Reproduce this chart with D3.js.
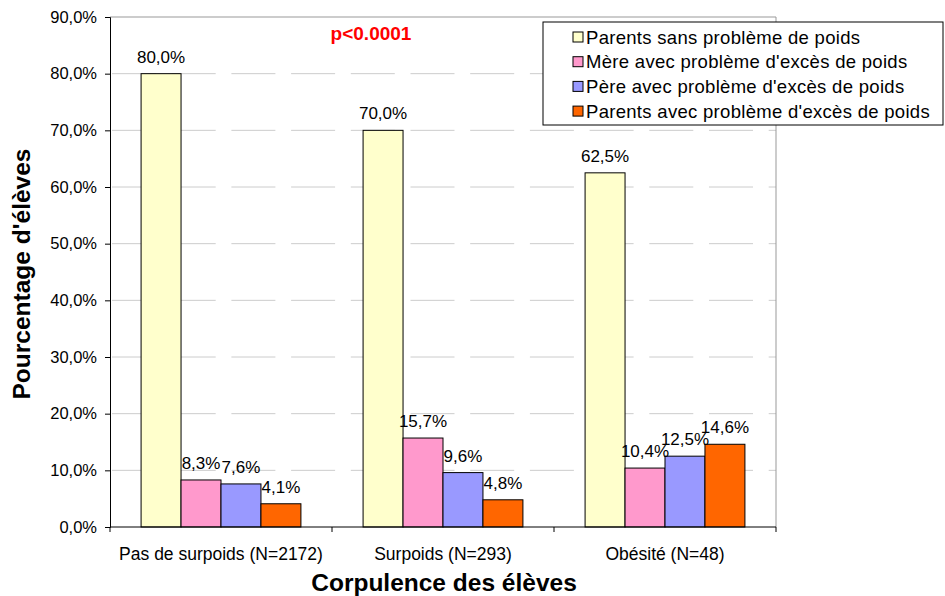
<!DOCTYPE html>
<html>
<head>
<meta charset="utf-8">
<script src="https://cdn.jsdelivr.net/npm/d3@7"></script>
<style>
  body { margin: 0; background: #fff; }
  text { font-family: Arial, "Liberation Sans", sans-serif; }
</style>
</head>
<body>
<svg id="chart" width="945" height="596"></svg>
<script>
// données
const categories = ["Pas de surpoids (N=2172)", "Surpoids (N=293)", "Obésité (N=48)"];
const series = [
  "Parents sans problème de poids",
  "Mère avec problème d'excès de poids",
  "Père avec problème d'excès de poids",
  "Parents avec problème d'excès de poids"
];
const sansProbleme = [80.0, 70.0, 62.5];
const mereExces = [8.3, 15.7, 10.4];
const pereExces = [7.6, 9.6, 12.5];
const parentsExces = [4.1, 4.8, 14.6];
const yTicks = [0, 10, 20, 30, 40, 50, 60, 70, 80, 90];
const colors = ["#FFFFCC", "#FF99CC", "#9999FF", "#FF6600"];

const values = [sansProbleme, mereExces, pereExces, parentsExces];
const data = [];
categories.forEach((c, i) => {
  series.forEach((s, j) => {
    data.push({ cat: c, serie: s, value: values[j][i] });
  });
});

const svg = d3.select("#chart");
const margin = { l: 110, t: 17, r: 169, b: 69 };
const width = 945, height = 596;
const innerW = width - margin.l - margin.r;
const innerH = height - margin.t - margin.b;

const x0 = d3.scaleBand().domain(categories).range([margin.l, margin.l + innerW]);
const x1 = d3.scaleBand().domain(series)
  .range([x0.bandwidth() * 0.14, x0.bandwidth() * 0.86]);
const y = d3.scaleLinear().domain([0, 90]).range([margin.t + innerH, margin.t]);

const fmt = (v) => d3.format(".1f")(v).replace(".", ",") + "%";

// lignes de grille
svg.append("g")
  .selectAll("line")
  .data(yTicks.filter((d) => d > 0 && d < 90))
  .join("line")
  .attr("x1", margin.l + 2)
  .attr("x2", margin.l + innerW)
  .attr("y1", (d) => y(d))
  .attr("y2", (d) => y(d))
  .attr("stroke", "#cccccc")
  .attr("stroke-width", 1)
  .attr("stroke-dasharray", "44,15.7");

// cadre (haut et droite)
svg.append("line")
  .attr("x1", margin.l).attr("x2", margin.l + innerW)
  .attr("y1", y(90)).attr("y2", y(90))
  .attr("stroke", "#999").attr("stroke-width", 1);
svg.append("line")
  .attr("x1", margin.l + innerW).attr("x2", margin.l + innerW)
  .attr("y1", y(90)).attr("y2", y(0))
  .attr("stroke", "#999").attr("stroke-width", 1);

// barres
svg.append("g")
  .selectAll("rect")
  .data(data)
  .join("rect")
  .attr("x", (d) => x0(d.cat) + x1(d.serie))
  .attr("y", (d) => y(d.value))
  .attr("width", x1.bandwidth())
  .attr("height", (d) => y(0) - y(d.value))
  .attr("fill", (d) => colors[series.indexOf(d.serie)])
  .attr("stroke", "#000")
  .attr("stroke-width", 1);

// étiquettes des valeurs
svg.append("g")
  .selectAll("text")
  .data(data)
  .join("text")
  .attr("x", (d) => x0(d.cat) + x1(d.serie) + x1.bandwidth() / 2)
  .attr("y", (d) => y(d.value) - 11)
  .attr("text-anchor", "middle")
  .attr("font-size", 17)
  .attr("fill", "#000")
  .text((d) => fmt(d.value));

// axe Y
const yAxis = svg.append("g")
  .attr("transform", `translate(${margin.l},0)`)
  .call(d3.axisLeft(y).tickValues(yTicks).tickSize(5).tickPadding(8).tickFormat(fmt));
yAxis.select(".domain").attr("stroke", "#000");
yAxis.selectAll("text").attr("font-size", 16.5).attr("fill", "#000")
  .style("font-family", "Arial, 'Liberation Sans', sans-serif");

// axe X
const xAxis = svg.append("g")
  .attr("transform", `translate(0,${y(0)})`)
  .call(d3.axisBottom(x0).tickSize(0).tickPadding(21));
xAxis.select(".domain").attr("stroke", "#000").attr("d", `M${margin.l},0H${margin.l + innerW}`);
xAxis.selectAll("text").attr("font-size", 17.5).attr("fill", "#000")
  .style("font-family", "Arial, 'Liberation Sans', sans-serif");
svg.append("g")
  .selectAll("line")
  .data(categories.concat(["fin"]))
  .join("line")
  .attr("x1", (d) => (d === "fin" ? margin.l + innerW : x0(d)))
  .attr("x2", (d) => (d === "fin" ? margin.l + innerW : x0(d)))
  .attr("y1", y(0))
  .attr("y2", y(0) + 5)
  .attr("stroke", "#000");

// titres des axes
svg.append("text")
  .attr("transform", `translate(30, ${margin.t + innerH / 2 + 2}) rotate(-90)`)
  .attr("text-anchor", "middle")
  .attr("font-size", 24.5)
  .attr("font-weight", "bold")
  .text("Pourcentage d'élèves");

svg.append("text")
  .attr("x", 444)
  .attr("y", 591)
  .attr("text-anchor", "middle")
  .attr("font-size", 24.5)
  .attr("font-weight", "bold")
  .text("Corpulence des élèves");

// p-valeur
svg.append("text")
  .attr("x", 371)
  .attr("y", 40)
  .attr("text-anchor", "middle")
  .attr("font-size", 19)
  .attr("font-weight", "bold")
  .attr("fill", "#FF0000")
  .text("p<0.0001");

// légende
const legend = svg.append("g").attr("transform", "translate(543,22)");
legend.append("rect")
  .attr("width", 400)
  .attr("height", 103)
  .attr("fill", "#fff")
  .attr("stroke", "#000")
  .attr("stroke-width", 1);
const item = legend.selectAll("g")
  .data(series)
  .join("g")
  .attr("transform", (d, i) => `translate(0,${15 + i * 24.7})`);
item.append("rect")
  .attr("x", 30)
  .attr("y", -5)
  .attr("width", 10)
  .attr("height", 10)
  .attr("fill", (d, i) => colors[i])
  .attr("stroke", "#000");
item.append("text")
  .attr("x", 43)
  .attr("y", 6.5)
  .attr("font-size", 18.5)
  .attr("letter-spacing", 0.3)
  .text((d) => d);
</script>
</body>
</html>
